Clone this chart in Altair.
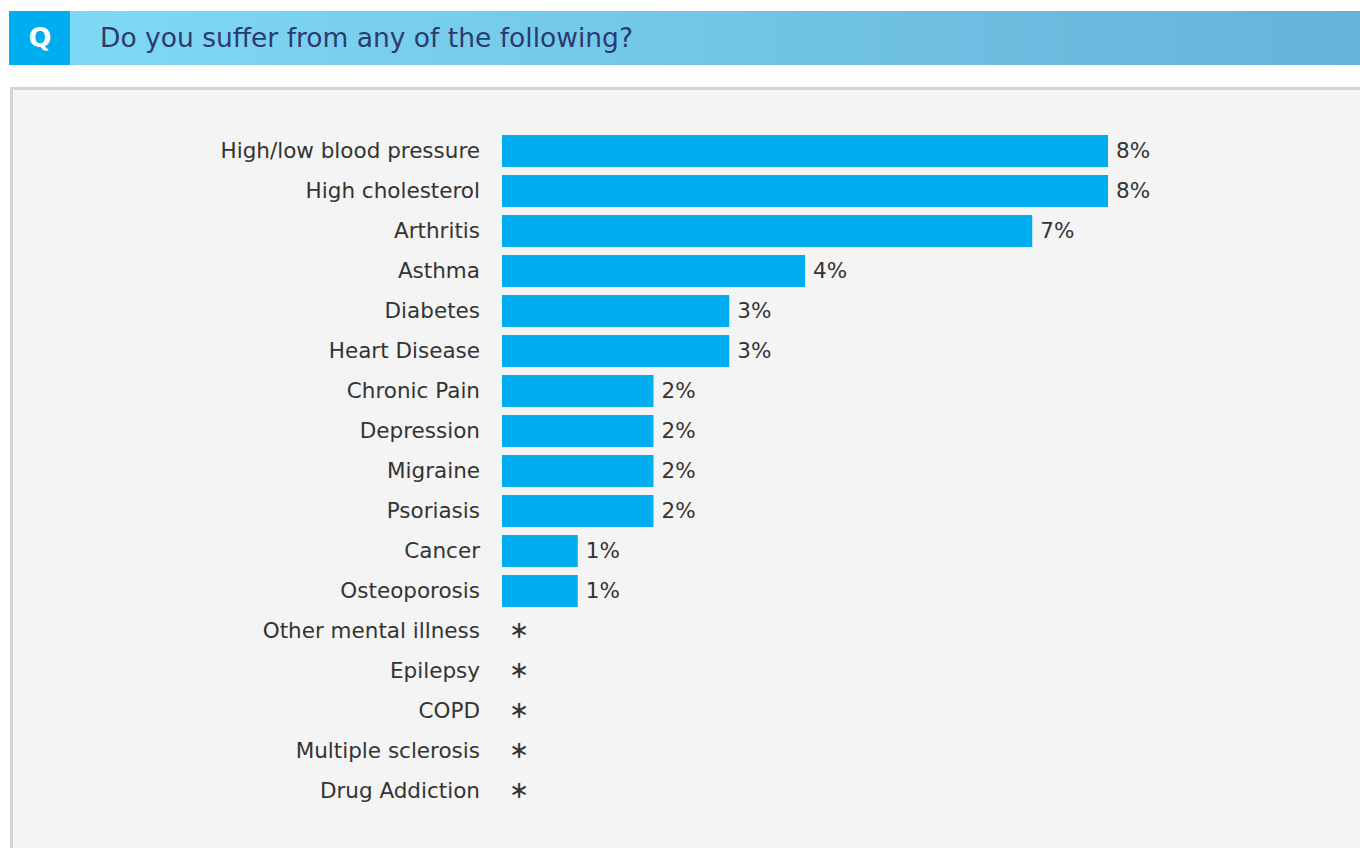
import altair as alt
import pandas as pd

categories = [
    "High/low blood pressure", "High cholesterol", "Arthritis", "Asthma",
    "Diabetes", "Heart Disease", "Chronic Pain", "Depression", "Migraine",
    "Psoriasis", "Cancer", "Osteoporosis", "Other mental illness", "Epilepsy",
    "COPD", "Multiple sclerosis", "Drug Addiction",
]
values = [8, 8, 7, 4, 3, 3, 2, 2, 2, 2, 1, 1, None, None, None, None, None]
question = "Do you suffer from any of the following?"

labels = [f"{v}%" if v is not None else "\u2217" for v in values]
df = pd.DataFrame({"condition": categories, "value": values, "label": labels,
                   "has": [v is not None for v in values]})
dummy = pd.DataFrame({"k": [0]})

FONT = "DejaVu Sans"
xs = alt.Scale(domain=[0, 8], range=[502, 1108], nice=False, zero=True)
ys = alt.Scale(domain=categories, range=[131, 811], paddingInner=0.2, paddingOuter=0.1)

panel = alt.Chart(dummy).mark_rect(fill="#f4f4f4", stroke="#d4d4d4", strokeWidth=3).encode(
    x=alt.value(11.5), x2=alt.value(1370), y=alt.value(88.5), y2=alt.value(870))

grad = alt.LinearGradient(
    gradient="linear", x1=0, x2=1, y1=0, y2=0,
    stops=[alt.GradientStop(color="#80dbf6", offset=0),
           alt.GradientStop(color="#70c2e4", offset=0.6),
           alt.GradientStop(color="#65b3da", offset=1)])
header = alt.Chart(dummy).mark_rect(color=grad).encode(
    x=alt.value(9), x2=alt.value(1360), y=alt.value(11), y2=alt.value(65))
qbox = alt.Chart(dummy).mark_rect(color="#00aeef").encode(
    x=alt.value(9), x2=alt.value(70), y=alt.value(11), y2=alt.value(65))
qtext = alt.Chart(dummy).mark_text(text="Q", font=FONT, fontSize=27, fontWeight="bold",
                                   color="white", align="center", baseline="middle").encode(
    x=alt.value(40), y=alt.value(39))
title = alt.Chart(dummy).mark_text(text=question, font=FONT, fontSize=26.5, color="#2c3b6e",
                                   align="left", baseline="middle").encode(
    x=alt.value(100), y=alt.value(39))

bars = alt.Chart(df).mark_bar(color="#00aeef").encode(
    x=alt.X("value:Q", scale=xs, axis=None),
    y=alt.Y("condition:N", scale=ys, axis=None, sort=categories),
)
cat_labels = alt.Chart(df).mark_text(font=FONT, fontSize=21.5, color="#333333",
                                     align="right", baseline="middle", dy=1).encode(
    x=alt.value(480),
    y=alt.Y("condition:N", scale=ys, axis=None, sort=categories),
    text="condition:N",
)
val_labels = alt.Chart(df).transform_filter("datum.has").mark_text(
    font=FONT, fontSize=21.5, color="#333333", align="left", baseline="middle", dx=8, dy=1).encode(
    x=alt.X("value:Q", scale=xs, axis=None),
    y=alt.Y("condition:N", scale=ys, axis=None, sort=categories),
    text="label:N",
)
stars = alt.Chart(df).transform_filter("!datum.has").mark_text(
    font=FONT, fontSize=24, color="#333333", align="center", baseline="middle").encode(
    x=alt.value(519),
    y=alt.Y("condition:N", scale=ys, axis=None, sort=categories),
    text="label:N",
)

chart = alt.layer(panel, header, qbox, qtext, title, bars, cat_labels, val_labels, stars).properties(
    width=1360, height=848, padding=0, autosize=alt.AutoSizeParams(type="none"),
    background="white",
).configure_view(strokeWidth=0)

chart.save("out.html", embed_options={"renderer": "svg", "actions": False})
